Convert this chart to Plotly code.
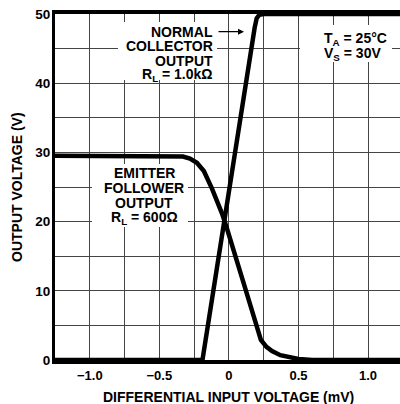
import plotly.graph_objects as go

# ---- data ----
nc_x = [-1.25, -0.19, 0.185, 0.2, 0.22, 0.25, 1.23]
nc_y = [0, 0, 48.0, 49.4, 49.9, 50, 50]

ef_x = [-1.25, -0.4, -0.33, -0.28, -0.23, -0.18, -0.12, -0.05, -0.02, 0.1, 0.2, 0.23, 0.27, 0.31, 0.37, 0.43, 0.5, 0.6, 1.23]
ef_y = [29.5, 29.5, 29.4, 29.1, 28.5, 27.3, 24.7, 21.2, 19.4, 11.5, 4.8, 2.9, 1.9, 1.3, 0.7, 0.4, 0.15, 0, 0]

x_tickvals = [-1.0, -0.5, 0, 0.5, 1.0]
x_ticktext = ["−1.0", "−0.5", "0", "0.5", "1.0"]
y_tickvals = [0, 10, 20, 30, 40, 50]
y_ticktext = ["0", "10", "20", "30", "40", "50"]

X_RANGE = [-1.25, 1.23]
Y_RANGE = [0, 50]

W, H = 400, 404
ML, MR, MT, MB = 55, 0, 14, 44

FONT = "Liberation Sans, Arial, Helvetica, sans-serif"


def px2x(px):
    return X_RANGE[0] + (px - ML) / (W - ML - MR) * (X_RANGE[1] - X_RANGE[0])


def py2y(py):
    return Y_RANGE[1] - (py - MT) / (H - MT - MB) * (Y_RANGE[1] - Y_RANGE[0])


fig = go.Figure()
fig.add_trace(go.Scatter(x=nc_x, y=nc_y, mode="lines",
                         line=dict(color="black", width=4.5), showlegend=False))
fig.add_trace(go.Scatter(x=ef_x, y=ef_y, mode="lines",
                         line=dict(color="black", width=4.5), showlegend=False))

# white boxes behind the text blocks (covering grid lines)
boxes = [(118, 22, 217, 80), (300, 25, 392, 62), (92, 164, 188, 227)]
shapes = []
for x0, y0, x1, y1 in boxes:
    shapes.append(dict(type="rect", xref="x", yref="y",
                       x0=px2x(x0), x1=px2x(x1), y0=py2y(y1), y1=py2y(y0),
                       fillcolor="white", line=dict(width=0), layer="between"))

ann = []


def txt(text, px, py, xanchor="center"):
    ann.append(dict(text="<b>" + text + "</b>", xref="x", yref="y",
                    x=px2x(px), y=py2y(py), xanchor=xanchor, yanchor="middle",
                    showarrow=False, font=dict(family=FONT, size=14, color="black")))


# Normal collector block
txt("NORMAL", 214.5, 31.7, "right")
txt("COLLECTOR", 214.5, 46.2, "right")
txt("OUTPUT", 214.5, 60.5, "right")
txt("R<sub>L</sub> = 1.0kΩ", 214.5, 75, "right")
# Arrow
ann.append(dict(text="", xref="x", yref="y", axref="x", ayref="y",
                x=px2x(244), y=py2y(31.7), ax=px2x(217), ay=py2y(31.7),
                showarrow=True, arrowhead=2, arrowsize=1, arrowwidth=1.2,
                arrowcolor="black"))
# Conditions block
txt("T<sub>A</sub> = 25°C", 322, 39, "left")
txt("V<sub>S</sub> = 30V", 322, 54, "left")
# Emitter follower block
txt("EMITTER", 144, 172.5)
txt("FOLLOWER", 144, 187.5)
txt("OUTPUT", 144, 202.5)
txt("R<sub>L</sub> = 600Ω", 144, 218)

# axis titles
ann.append(dict(text="<b>DIFFERENTIAL INPUT VOLTAGE (mV)</b>", xref="paper", yref="paper",
                x=0.5, y=0, xanchor="center", yanchor="middle", yshift=-37, xshift=1,
                showarrow=False, font=dict(family=FONT, size=14, color="black")))
ann.append(dict(text="<b>OUTPUT VOLTAGE (V)</b>", xref="paper", yref="paper",
                x=0, y=0.5, xanchor="center", yanchor="middle", xshift=-38, yshift=0,
                textangle=-90, showarrow=False,
                font=dict(family=FONT, size=14, color="black")))

fig.update_layout(
    width=W, height=H,
    margin=dict(l=ML, r=MR, t=MT, b=MB, pad=0),
    paper_bgcolor="white", plot_bgcolor="white",
    shapes=shapes, annotations=ann,
    font=dict(family=FONT, size=13, color="black"),
)
fig.update_xaxes(range=X_RANGE, tickvals=x_tickvals, ticktext=["<b>%s</b>" % t for t in x_ticktext],
                 showgrid=True, gridcolor="#444", gridwidth=1, zeroline=False,
                 minor=dict(dtick=0.25, tick0=0, showgrid=True, gridcolor="#444", gridwidth=1, ticks=""),
                 showline=True, linecolor="black", linewidth=4, mirror=True,
                 ticks="", ticklabelstandoff=0, tickfont=dict(size=13, family=FONT))
fig.update_yaxes(range=Y_RANGE, tickvals=y_tickvals, ticktext=["<b>%s</b>" % t for t in y_ticktext],
                 showgrid=True, gridcolor="#444", gridwidth=1, zeroline=False,
                 minor=dict(dtick=5, tick0=0, showgrid=True, gridcolor="#444", gridwidth=1, ticks=""),
                 showline=True, linecolor="black", linewidth=3, mirror=False,
                 ticks="", ticklabelstandoff=-1, tickfont=dict(size=13.5, family=FONT))

fig.write_html("out.html", config={"displayModeBar": False},
               post_script="document.body.style.margin='0';document.body.style.overflow='hidden';")
